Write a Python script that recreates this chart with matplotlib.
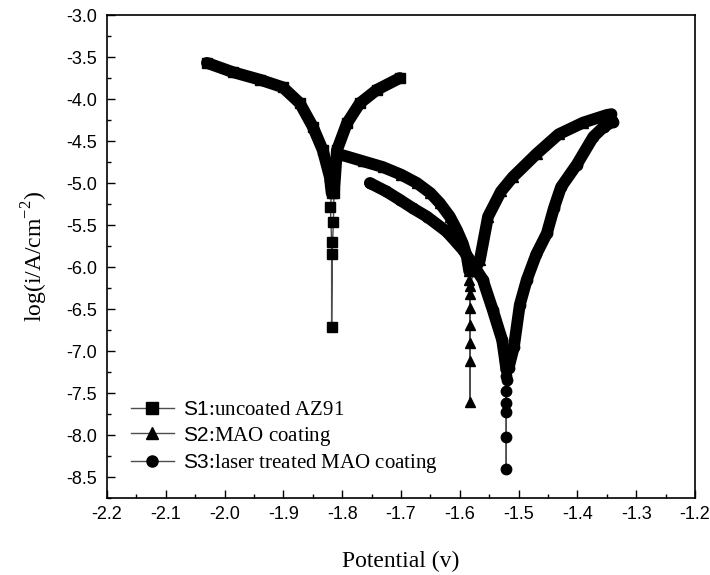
import numpy as np
import matplotlib
matplotlib.use('Agg')
import matplotlib.pyplot as plt
from matplotlib.lines import Line2D

plt.rcParams['font.family'] = 'Liberation Serif'
plt.rcParams['mathtext.fontset'] = 'custom'
plt.rcParams['mathtext.rm'] = 'Liberation Serif'
plt.rcParams['mathtext.sf'] = 'Liberation Sans'

# S1: uncoated AZ91 (scan order: cathodic -> Ecorr -> anodic)
s1_cat_x = [-2.030, -1.986, -1.940, -1.901, -1.872, -1.850, -1.833, -1.821, -1.818]
s1_cat_y = [-3.57, -3.68, -3.77, -3.86, -4.05, -4.33, -4.61, -4.93, -5.12]
s1_mid_x = [-1.820, -1.818, -1.818, -1.817, -1.815]
s1_mid_y = [-5.29, -5.70, -6.71, -5.85, -5.46]
s1_an_x = [-1.814, -1.809, -1.792, -1.770, -1.741, -1.702]
s1_an_y = [-5.12, -4.61, -4.29, -4.05, -3.89, -3.75]

# S2: MAO coating
s2_cat_x = [-1.799, -1.765, -1.731, -1.700, -1.673, -1.650, -1.634, -1.617,
            -1.605, -1.595, -1.588, -1.584]
s2_cat_y = [-4.67, -4.74, -4.81, -4.90, -5.00, -5.12, -5.24, -5.40,
            -5.56, -5.72, -5.88, -6.05]
s2_mid_x = [-1.584, -1.583, -1.583, -1.583, -1.583, -1.583, -1.583, -1.583]
s2_mid_y = [-6.15, -6.32, -6.69, -7.12, -7.61, -6.91, -6.49, -6.23]
s2_an_x = [-1.576, -1.566, -1.552, -1.530, -1.510, -1.469, -1.432, -1.390,
           -1.350, -1.342]
s2_an_y = [-6.05, -5.92, -5.40, -5.10, -4.93, -4.65, -4.42, -4.28,
           -4.19, -4.18]

# S3: laser treated MAO coating
s3_cat_x = [-1.753, -1.725, -1.702, -1.680, -1.656, -1.622, -1.594, -1.575,
            -1.561, -1.544, -1.528, -1.523, -1.521]
s3_cat_y = [-5.00, -5.10, -5.20, -5.30, -5.40, -5.58, -5.80, -6.00,
            -6.15, -6.51, -6.87, -7.11, -7.22]
s3_mid_x = [-1.521, -1.522, -1.521, -1.521, -1.521, -1.521, -1.520]
s3_mid_y = [-7.30, -7.48, -7.73, -8.40, -8.02, -7.62, -7.35]
s3_an_x = [-1.517, -1.508, -1.498, -1.486, -1.470, -1.452, -1.440, -1.428,
           -1.401, -1.373, -1.355, -1.340]
s3_an_y = [-7.20, -6.95, -6.45, -6.15, -5.85, -5.60, -5.30, -5.05,
           -4.78, -4.45, -4.33, -4.27]

labels = [r'$\mathsf{S1}$:uncoated AZ91', r'$\mathsf{S2}$:MAO coating',
          r'$\mathsf{S3}$:laser treated MAO coating']
markers = ['s', '^', 'o']

fig = plt.figure(figsize=(7.1, 5.75), dpi=100)
ax = fig.add_axes([0.1507, 0.1339, 0.8282, 0.8400])

series = [
    (s1_cat_x, s1_cat_y, s1_mid_x, s1_mid_y, s1_an_x, s1_an_y),
    (s2_cat_x, s2_cat_y, s2_mid_x, s2_mid_y, s2_an_x, s2_an_y),
    (s3_cat_x, s3_cat_y, s3_mid_x, s3_mid_y, s3_an_x, s3_an_y),
]
for (cx, cy, mx, my, axx, ayy), m in zip(series, markers):
    allx = cx + mx + axx
    ally = cy + my + ayy
    ax.plot(allx, ally, color='0.3', lw=1, marker=m, ms=7.5, mfc='k', mec='k', zorder=2)
    # dense branches: markers overlap into a thick band
    ax.plot(cx, cy, color='k', lw=8.5, solid_capstyle='round', solid_joinstyle='round', zorder=3)
    ax.plot(axx, ayy, color='k', lw=8.5, solid_capstyle='round', solid_joinstyle='round', zorder=3)

ax.set_xlim(-2.2, -1.2)
ax.set_ylim(-8.75, -3.0)
xt = np.arange(-2.2, -1.15, 0.1)
yt = np.arange(-8.5, -2.95, 0.5)
ax.set_xticks(xt)
ax.set_xticks(np.arange(-2.15, -1.2, 0.1), minor=True)
ax.set_yticks(yt)
ax.set_yticks(np.arange(-8.75, -3.0, 0.5), minor=True)
ax.set_xticklabels(['%.1f' % v for v in xt], family='Liberation Sans', fontsize=13)
ax.set_yticklabels(['%.1f' % v for v in yt], family='Liberation Sans', fontsize=13)
ax.tick_params(which='major', direction='in', length=6, width=1,
               top=False, right=False)
ax.tick_params(axis='x', which='major', pad=6)
ax.tick_params(axis='y', which='major', pad=7)
ax.tick_params(which='minor', direction='in', length=3, width=1,
               top=False, right=False)
for s in ax.spines.values():
    s.set_linewidth(1.2)

ax.set_xlabel('Potential (v)', fontsize=17, labelpad=20)
ax.set_ylabel(r'log(i/A/cm$^{-2}$)', fontsize=17, labelpad=12)

handles = [Line2D([], [], color='0.3', lw=1, marker=m, ms=8, mfc='k', mec='k')
           for m in markers]
ax.legend(handles, labels, loc='lower left', bbox_to_anchor=(0.026, 0.03),
          frameon=False, fontsize=15, handlelength=2.1, handletextpad=0.4,
          labelspacing=0.22, borderaxespad=0)

fig.savefig('out.png', dpi=100)
